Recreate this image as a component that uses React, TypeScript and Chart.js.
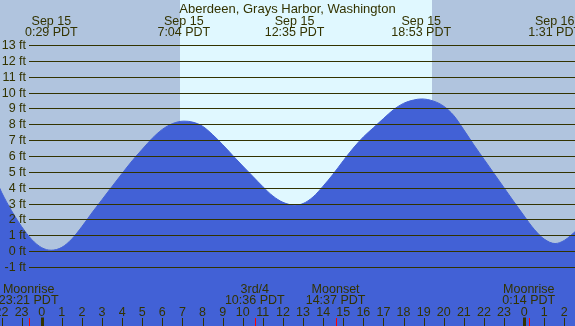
import React, { useEffect, useRef } from "react";
import { Chart, registerables } from "chart.js";

Chart.register(...registerables);

// Tide heights (ft), by hour relative to Sep 15 0:00 PDT
const tideHours = [-2.1, -2, -1.5, -1, -0.5, 0, 0.47, 1, 1.5, 2, 2.5, 3, 3.5, 4, 4.5, 5, 5.5, 6, 6.5, 7.07, 7.5, 8, 8.5, 9, 9.5, 10, 10.5, 11, 11.5, 12, 12.6, 13, 13.5, 14, 14.5, 15, 15.5, 16, 16.5, 17, 17.5, 18, 18.5, 18.9, 19.5, 20, 20.5, 21, 21.5, 22, 22.5, 23, 23.5, 24, 24.5, 25, 25.54, 26, 26.6];
const tideFeet = [4.0, 3.72, 2.55, 1.55, 0.74, 0.22, 0.06, 0.24, 0.77, 1.55, 2.42, 3.25, 4.08, 4.9, 5.7, 6.42, 7.12, 7.68, 8.04, 8.2, 8.14, 7.88, 7.35, 6.72, 6.04, 5.37, 4.72, 4.07, 3.48, 3.08, 2.9, 3.0, 3.42, 4.1, 4.86, 5.7, 6.5, 7.2, 7.78, 8.36, 8.92, 9.32, 9.53, 9.6, 9.46, 9.14, 8.55, 7.65, 6.7, 5.8, 4.9, 4.0, 3.1, 2.22, 1.38, 0.76, 0.48, 0.68, 1.3];

// y-axis ticks
const feetTicks = [-1, 0, 1, 2, 3, 4, 5, 6, 7, 8, 9, 10, 11, 12, 13];
const feetLabels = ["-1 ft", "0 ft", "1 ft", "2 ft", "3 ft", "4 ft", "5 ft", "6 ft", "7 ft", "8 ft", "9 ft", "10 ft", "11 ft", "12 ft", "13 ft"];

// x-axis hour ticks
const hourTicks = [-2, -1, 0, 1, 2, 3, 4, 5, 6, 7, 8, 9, 10, 11, 12, 13, 14, 15, 16, 17, 18, 19, 20, 21, 22, 23, 24, 25, 26];
const hourLabels = ["22", "23", "0", "1", "2", "3", "4", "5", "6", "7", "8", "9", "10", "11", "12", "13", "14", "15", "16", "17", "18", "19", "20", "21", "22", "23", "0", "1", "2"];
const midnightHours = [0, 24];

// High / low tide events (top labels)
const tideEventHours = [0.48, 7.07, 12.58, 18.88, 25.52];
const tideEventDates = ["Sep 15", "Sep 15", "Sep 15", "Sep 15", "Sep 16"];
const tideEventTimes = ["0:29 PDT", "7:04 PDT", "12:35 PDT", "18:53 PDT", "1:31 PDT"];

// Moon events (bottom labels)
const moonEventHours = [-0.65, 10.6, 14.62, 24.23];
const moonEventNames = ["Moonrise", "3rd/4", "Moonset", "Moonrise"];
const moonEventTimes = ["23:21 PDT", "10:36 PDT", "14:37 PDT", "0:14 PDT"];

// Sun
const sunriseHour = 6.88;
const sunsetHour = 19.42;

const title = "Aberdeen, Grays Harbor, Washington";

const NIGHT = "#b0c4de";
const DAY = "#e0f8ff";
const WATER = "#4261d6";
const INK = "#333300";
const FONT = '12.5px "Liberation Sans", Arial, sans-serif';
const TITLE_FONT = '13px "Liberation Sans", Arial, sans-serif';

const decorPlugin = {
  id: "tideDecor",
  beforeDatasetsDraw(chart: any) {
    const { ctx, scales, width, height } = chart;
    const x = scales.x;
    const sr = x.getPixelForValue(sunriseHour);
    const ss = x.getPixelForValue(sunsetHour);
    ctx.save();
    ctx.fillStyle = NIGHT;
    ctx.fillRect(0, 0, width, height);
    ctx.fillStyle = DAY;
    ctx.fillRect(Math.round(sr), 0, Math.round(ss) - Math.round(sr), height);
    ctx.restore();
  },
  afterDatasetsDraw(chart: any) {
    const { ctx, scales, width, height } = chart;
    const x = scales.x;
    const y = scales.y;
    ctx.save();
    // horizontal grid + labels
    ctx.fillStyle = INK;
    ctx.font = FONT;
    ctx.textAlign = "right";
    ctx.textBaseline = "middle";
    feetTicks.forEach((f, i) => {
      const py = Math.round(y.getPixelForValue(f));
      ctx.fillRect(29, py, width - 29, 1);
      ctx.fillText(feetLabels[i], 26, py + 1);
    });
    // title
    ctx.textAlign = "center";
    ctx.textBaseline = "alphabetic";
    ctx.font = TITLE_FONT;
    ctx.fillText(title, width / 2, 12.5);
    ctx.font = FONT;
    tideEventHours.forEach((h, i) => {
      const px = x.getPixelForValue(h);
      ctx.fillText(tideEventDates[i], px, 24.5);
      ctx.fillText(tideEventTimes[i], px, 36);
    });
    moonEventHours.forEach((h, i) => {
      const px = x.getPixelForValue(h);
      ctx.fillText(moonEventNames[i], px, 292.5);
      ctx.fillText(moonEventTimes[i], px, 304);
    });
    hourTicks.forEach((h, i) => {
      const px = x.getPixelForValue(h);
      ctx.fillText(hourLabels[i], px, 316);
      ctx.fillRect(Math.round(px), 318, 1, height - 318);
    });
    midnightHours.forEach((h) => {
      const px = x.getPixelForValue(h);
      ctx.fillRect(Math.round(px) - 1, 317.5, 3, height - 317.5);
    });
    ctx.fillStyle = "#ff0000";
    moonEventHours.forEach((h) => {
      const px = x.getPixelForValue(h);
      ctx.fillRect(Math.round(px), 318, 1, height - 318);
    });
    ctx.restore();
  },
};

export default function App() {
  const ref = useRef<HTMLCanvasElement | null>(null);
  useEffect(() => {
    document.body.style.margin = "0";
    const canvas = ref.current;
    if (!canvas) return;
    const chart = new Chart(canvas, {
      type: "line",
      data: {
        datasets: [
          {
            data: tideHours.map((h, i) => ({ x: h, y: tideFeet[i] })),
            borderColor: WATER,
            backgroundColor: WATER,
            borderWidth: 1,
            pointRadius: 0,
            fill: "start",
            cubicInterpolationMode: "monotone",
          },
        ],
      },
      options: {
        animation: false,
        responsive: false,
        maintainAspectRatio: false,
        layout: { padding: 0 },
        events: [],
        plugins: {
          legend: { display: false },
          tooltip: { enabled: false },
          title: { display: false },
        },
        scales: {
          x: { type: "linear", min: -2.075, max: 26.53, display: false },
          y: { type: "linear", min: -4.72, max: 15.84, display: false },
        },
      },
      plugins: [decorPlugin],
    });
    return () => chart.destroy();
  }, []);
  return <canvas ref={ref} width={575} height={326} style={{ display: "block" }} />;
}
